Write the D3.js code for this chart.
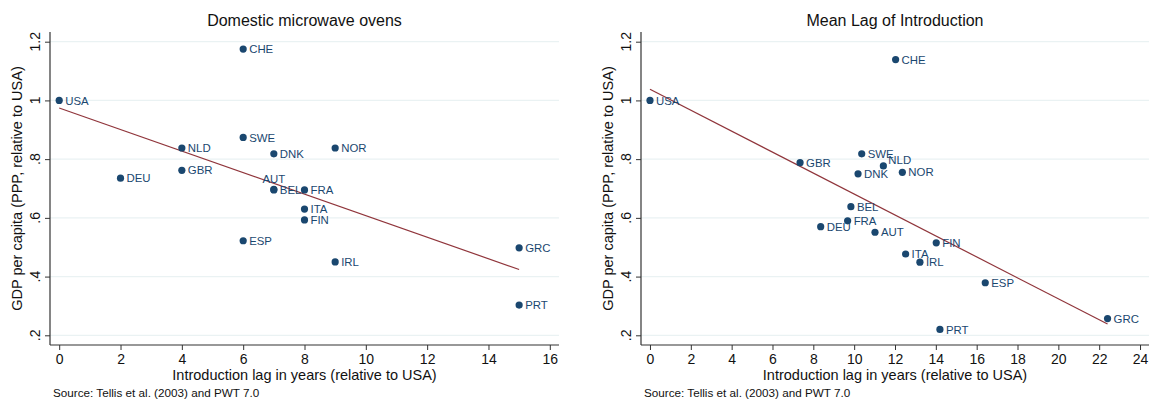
<!DOCTYPE html>
<html>
<head>
<meta charset="utf-8">
<script src="https://cdn.jsdelivr.net/npm/d3@7"></script>
<style>
  html, body { margin: 0; padding: 0; background: #fff; }
  svg { display: block; font-family: "Liberation Sans", Arial, Helvetica, sans-serif; }
</style>
</head>
<body>
<svg id="chart" width="1151" height="403"></svg>
<script>
// ---------------- DATA ----------------
const titles = ["Domestic microwave ovens", "Mean Lag of Introduction"];
const yTitle = "GDP per capita (PPP, relative to USA)";
const xTitle = "Introduction lag in years (relative to USA)";
const sourceText = "Source: Tellis et al. (2003) and PWT 7.0";

const yTicks = [0.2, 0.4, 0.6, 0.8, 1.0, 1.2];
const yTickLabels = [".2", ".4", ".6", ".8", "1", "1.2"];
const xTicksLeft = [0, 2, 4, 6, 8, 10, 12, 14, 16];
const xTicksRight = [0, 2, 4, 6, 8, 10, 12, 14, 16, 18, 20, 22, 24];

// Left panel: Domestic microwave ovens
const countriesLeft = ["USA","CHE","SWE","NLD","DNK","NOR","DEU","GBR","AUT","BEL","FRA","ITA","FIN","ESP","GRC","IRL","PRT"];
const lagLeft =       [0,    6,    6,    4,    7,    9,    2,    4,    7,    7,    8,    8,    8,    6,    15,   9,    15];
const gdpLeft =       [1.0,  1.175,0.874,0.838,0.818,0.838,0.735,0.762,0.697,0.695,0.695,0.630,0.593,0.522,0.498,0.450,0.303];

// Right panel: Mean lag of introduction
const countriesRight = ["USA","CHE","GBR","SWE","DNK","NLD","NOR","BEL","FRA","DEU","AUT","FIN","ITA","IRL","ESP","GRC","PRT"];
const lagRight =       [0,    12.03,7.35, 10.37,10.19,11.43,12.36,9.84, 9.68, 8.36, 11.02,14.02,12.52,13.22,16.42,22.41,14.20];
const gdpRight =       [1.0,  1.139,0.788,0.818,0.750,0.777,0.755,0.638,0.590,0.570,0.551,0.515,0.477,0.449,0.379,0.257,0.220];

// ---------------- DRAWING ----------------
const svg = d3.select("#chart");
const NAVY = "#1a476f", MAROON = "#90353b", GRID = "#eaf2f3", AXIS = "#333";

function ols(xs, ys) {
  const n = xs.length, mx = d3.mean(xs), my = d3.mean(ys);
  let sxy = 0, sxx = 0;
  for (let i = 0; i < n; i++) { sxy += (xs[i]-mx)*(ys[i]-my); sxx += (xs[i]-mx)**2; }
  const b = sxy / sxx;
  return { a: my - b*mx, b };
}

function panel(cfg) {
  const g = svg.append("g");
  const x = d3.scaleLinear().domain(cfg.xDomain).range([cfg.left, cfg.right]);
  const y = d3.scaleLinear().domain([0.167, 1.233]).range([345, 32]);

  // gridlines
  g.append("g").selectAll("line").data(yTicks).join("line")
    .attr("x1", cfg.left).attr("x2", cfg.right)
    .attr("y1", d => y(d)).attr("y2", d => y(d))
    .attr("stroke", GRID).attr("stroke-width", 1.2);

  // y axis
  const ya = g.append("g").attr("transform", `translate(${cfg.left},0)`)
    .call(d3.axisLeft(y).tickValues(yTicks).tickSize(5).tickFormat(""));
  ya.select(".domain").attr("stroke", AXIS).attr("stroke-width", 1.2).attr("d", `M0,${y.range()[1]}V${y.range()[0]}`);
  ya.selectAll(".tick line").attr("stroke", AXIS);
  g.append("g").selectAll("text").data(yTicks).join("text")
    .attr("transform", d => `translate(${cfg.left - 15.5},${y(d)}) rotate(-90)`)
    .attr("text-anchor", "middle").attr("dy", "0.36em")
    .attr("font-size", 14).attr("fill", "#111")
    .text((d, i) => yTickLabels[i]);

  // x axis
  const xa = g.append("g").attr("transform", `translate(0,345)`)
    .call(d3.axisBottom(x).tickValues(cfg.xTicks).tickSize(5).tickFormat(d3.format("d")));
  xa.select(".domain").attr("stroke", AXIS).attr("stroke-width", 1.2).attr("d", `M${cfg.left},0H${cfg.right}`);
  xa.selectAll(".tick line").attr("stroke", AXIS);
  xa.selectAll(".tick text").attr("font-size", 14).attr("fill", "#111")
    .attr("font-family", "Liberation Sans, Arial, sans-serif").attr("y", 9);

  // fit line
  const f = ols(cfg.lag, cfg.gdp);
  const x0 = d3.min(cfg.lag), x1 = d3.max(cfg.lag);
  g.append("path")
    .attr("d", d3.line().x(d => x(d)).y(d => y(f.a + f.b*d))([x0, x1]))
    .attr("stroke", MAROON).attr("stroke-width", 1.2).attr("fill", "none");

  // points
  const pts = cfg.countries.map((c, i) => ({ c, lx: cfg.lag[i], gy: cfg.gdp[i] }));
  g.append("g").selectAll("circle").data(pts).join("circle")
    .attr("cx", d => x(d.lx)).attr("cy", d => y(d.gy)).attr("r", 3.6)
    .attr("fill", NAVY);

  // labels
  g.append("g").selectAll("text").data(pts).join("text")
    .attr("x", d => {
      const p = cfg.labelPos[d.c];
      if (p === 12) return x(d.lx);
      if (p === 1) return x(d.lx) + 5;
      return x(d.lx) + 6;
    })
    .attr("y", d => {
      const p = cfg.labelPos[d.c];
      if (p === 12) return y(d.gy) - 10;
      if (p === 1) return y(d.gy) - 6;
      return y(d.gy);
    })
    .attr("text-anchor", d => cfg.labelPos[d.c] === 12 ? "middle" : "start")
    .attr("dy", "0.36em")
    .attr("font-size", 11.4).attr("fill", NAVY)
    .text(d => d.c);

  const cx = (cfg.left + cfg.right) / 2;
  // title
  g.append("text").attr("x", cx).attr("y", 25.5).attr("text-anchor", "middle")
    .attr("font-size", 16).attr("fill", "#111").text(cfg.title);
  // x title
  g.append("text").attr("x", cx).attr("y", 380).attr("text-anchor", "middle")
    .attr("font-size", 14.5).attr("fill", "#111").text(xTitle);
  // y title
  g.append("text").attr("transform", `translate(${cfg.left - 33},188.5) rotate(-90)`)
    .attr("text-anchor", "middle").attr("dy", "0.36em")
    .attr("font-size", 14.5).attr("fill", "#111").text(yTitle);
  // source
  g.append("text").attr("x", cfg.left + 3).attr("y", 397)
    .attr("font-size", 11.7).attr("fill", "#111").text(sourceText);
}

panel({
  title: titles[0], left: 50, right: 559, xDomain: [-0.3, 16.3], xTicks: xTicksLeft,
  countries: countriesLeft, lag: lagLeft, gdp: gdpLeft,
  labelPos: { AUT: 12 }
});
panel({
  title: titles[1], left: 641, right: 1149, xDomain: [-0.44, 24.44], xTicks: xTicksRight,
  countries: countriesRight, lag: lagRight, gdp: gdpRight,
  labelPos: { NLD: 1 }
});
</script>
</body>
</html>
